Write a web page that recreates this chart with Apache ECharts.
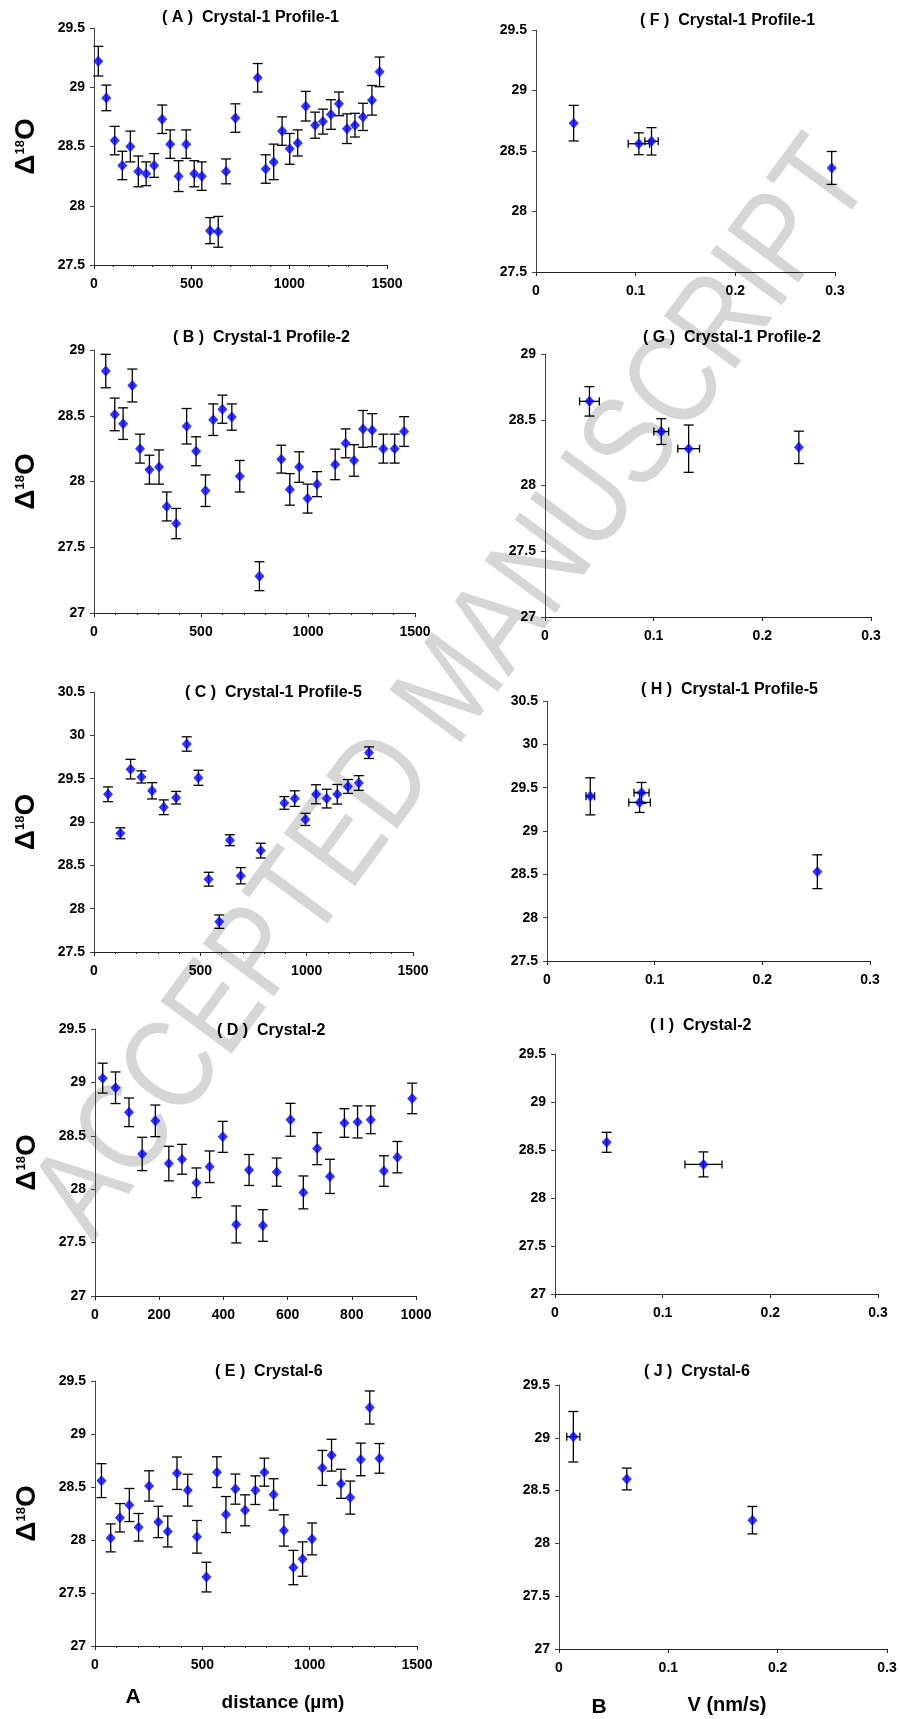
<!DOCTYPE html>
<html>
<head>
<meta charset="utf-8">
<script src="https://cdn.jsdelivr.net/npm/echarts@6/dist/echarts.min.js"></script>
<style>
  html, body { margin: 0; padding: 0; background: #fff; }
  #main { width: 900px; height: 1719px; }
</style>
</head>
<body>
<div id="main"></div>
<script>
// ---- distance profiles (left column) ----
var aDist = [22, 63, 106, 145, 186, 227, 267, 308, 349, 390, 433, 472, 513, 552, 594, 636, 676, 724, 838, 879, 920, 963, 1002, 1043, 1084, 1132, 1172, 1213, 1254, 1295, 1336, 1377, 1423, 1462];
var aD18 = [29.22, 28.91, 28.55, 28.34, 28.50, 28.29, 28.27, 28.34, 28.73, 28.52, 28.25, 28.52, 28.27, 28.25, 27.79, 27.78, 28.29, 28.74, 29.08, 28.31, 28.37, 28.63, 28.48, 28.53, 28.84, 28.68, 28.71, 28.77, 28.86, 28.65, 28.68, 28.75, 28.89, 29.13];
var aErr = [0.125, 0.108, 0.12, 0.12, 0.13, 0.13, 0.10, 0.10, 0.12, 0.12, 0.13, 0.12, 0.11, 0.12, 0.11, 0.13, 0.105, 0.12, 0.12, 0.12, 0.15, 0.12, 0.13, 0.11, 0.125, 0.11, 0.105, 0.125, 0.10, 0.125, 0.10, 0.115, 0.125, 0.125];

var bDist = [55, 97, 136, 179, 215, 259, 304, 340, 384, 433, 477, 521, 557, 600, 644, 681, 773, 875, 915, 959, 998, 1042, 1127, 1176, 1215, 1257, 1300, 1352, 1405, 1449];
var bD18 = [28.84, 28.51, 28.44, 28.73, 28.25, 28.09, 28.11, 27.81, 27.68, 28.42, 28.23, 27.93, 28.47, 28.55, 28.49, 28.04, 27.28, 28.17, 27.94, 28.11, 27.87, 27.98, 28.13, 28.29, 28.16, 28.40, 28.39, 28.25, 28.25, 28.38];
var bErr = [0.127, 0.124, 0.12, 0.125, 0.11, 0.11, 0.13, 0.11, 0.115, 0.135, 0.11, 0.12, 0.12, 0.107, 0.10, 0.12, 0.11, 0.106, 0.12, 0.116, 0.11, 0.095, 0.116, 0.11, 0.12, 0.14, 0.126, 0.11, 0.11, 0.113];

var cDist = [66, 124, 172, 223, 273, 328, 386, 436, 491, 539, 589, 639, 690, 784, 895, 944, 994, 1044, 1094, 1144, 1194, 1245, 1293];
var cD18 = [29.32, 28.87, 29.61, 29.52, 29.36, 29.17, 29.28, 29.90, 29.51, 28.34, 27.85, 28.79, 28.38, 28.67, 29.22, 29.27, 29.03, 29.32, 29.27, 29.32, 29.41, 29.45, 29.80];
var cErr = [0.085, 0.063, 0.113, 0.07, 0.094, 0.085, 0.073, 0.083, 0.087, 0.08, 0.077, 0.063, 0.094, 0.085, 0.073, 0.09, 0.07, 0.11, 0.108, 0.113, 0.08, 0.085, 0.067];

var dDist = [24, 64, 106, 147, 188, 230, 271, 316, 357, 398, 440, 480, 523, 566, 609, 649, 692, 732, 777, 818, 859, 900, 942, 988];
var dD18 = [29.04, 28.95, 28.72, 28.33, 28.64, 28.24, 28.28, 28.06, 28.21, 28.49, 27.67, 28.18, 27.66, 28.16, 28.65, 27.97, 28.38, 28.12, 28.62, 28.63, 28.65, 28.17, 28.30, 28.85];
var dErr = [0.14, 0.148, 0.134, 0.156, 0.148, 0.162, 0.14, 0.139, 0.148, 0.145, 0.173, 0.145, 0.148, 0.132, 0.154, 0.154, 0.15, 0.16, 0.134, 0.15, 0.13, 0.143, 0.147, 0.143];

var eDist = [30, 73, 116, 160, 203, 252, 295, 339, 382, 432, 475, 519, 568, 610, 654, 699, 747, 789, 832, 880, 924, 967, 1011, 1059, 1102, 1146, 1189, 1238, 1280, 1325];
var eD18 = [28.56, 28.02, 28.21, 28.33, 28.12, 28.51, 28.17, 28.08, 28.63, 28.47, 28.03, 27.65, 28.64, 28.24, 28.48, 28.28, 28.47, 28.64, 28.43, 28.09, 27.74, 27.82, 28.01, 28.68, 28.80, 28.53, 28.40, 28.76, 29.25, 28.77];
var eErr = [0.16, 0.132, 0.134, 0.156, 0.13, 0.143, 0.148, 0.146, 0.153, 0.15, 0.154, 0.14, 0.145, 0.17, 0.142, 0.146, 0.135, 0.132, 0.148, 0.148, 0.162, 0.162, 0.15, 0.165, 0.15, 0.137, 0.156, 0.154, 0.156, 0.14];

// ---- growth rate V (right column) ----
var fV = [0.0378, 0.1032, 0.1159, 0.2967];
var fD18 = [28.73, 28.56, 28.58, 28.36];
var fErr = [0.147, 0.09, 0.113, 0.136];
var fVErr = [0, 0.0107, 0.0067, 0];

var gV = [0.0409, 0.107, 0.1322, 0.2336];
var gD18 = [28.64, 28.41, 28.28, 28.29];
var gErr = [0.112, 0.098, 0.18, 0.123];
var gVErr = [0.0091, 0.0068, 0.010, 0];

var hV = [0.0402, 0.086, 0.0878, 0.2511];
var hD18 = [29.40, 29.33, 29.44, 28.53];
var hErr = [0.214, 0.116, 0.12, 0.195];
var hVErr = [0.004, 0.010, 0.007, 0];

var iV = [0.048, 0.1379];
var iD18 = [28.58, 28.35];
var iErr = [0.104, 0.13];
var iVErr = [0, 0.0172];

var jV = [0.0131, 0.062, 0.1769];
var jD18 = [29.01, 28.61, 28.22];
var jErr = [0.239, 0.103, 0.13];
var jVErr = [0.006, 0, 0];

var titles = ['( A )  Crystal-1 Profile-1', '( B )  Crystal-1 Profile-2', '( C )  Crystal-1 Profile-5', '( D )  Crystal-2', '( E )  Crystal-6',
              '( F )  Crystal-1 Profile-1', '( G )  Crystal-1 Profile-2', '( H )  Crystal-1 Profile-5', '( I )  Crystal-2', '( J )  Crystal-6'];

var chart = echarts.init(document.getElementById('main'));
var FONT = '"Liberation Sans", Arial, sans-serif';

// panel layout: grid box, title position, axis ranges
var panels = [
  {x: aDist, y: aD18, ey: aErr, box: [94, 28, 293, 237], t: [162, 10], xr: [0, 1500, 500], yr: [27.5, 29.5, 0.5], minor: true, left: true},
  {x: bDist, y: bD18, ey: bErr, box: [94, 350, 321, 263], t: [173, 330], xr: [0, 1500, 500], yr: [27, 29, 0.5], minor: true, left: true},
  {x: cDist, y: cD18, ey: cErr, box: [94, 692, 319, 260], t: [185, 685], xr: [0, 1500, 500], yr: [27.5, 30.5, 0.5], minor: true, left: true},
  {x: dDist, y: dD18, ey: dErr, box: [95, 1029, 321, 267], t: [217, 1023], xr: [0, 1000, 200], yr: [27, 29.5, 0.5], minor: false, left: true},
  {x: eDist, y: eD18, ey: eErr, box: [95, 1381, 322, 265], t: [215, 1364], xr: [0, 1500, 500], yr: [27, 29.5, 0.5], minor: true, left: true},
  {x: fV, y: fD18, ey: fErr, ex: fVErr, box: [536, 30, 299, 242], t: [640, 13], xr: [0, 0.3, 0.1], yr: [27.5, 29.5, 0.5]},
  {x: gV, y: gD18, ey: gErr, ex: gVErr, box: [545, 354, 326, 263], t: [643, 330], xr: [0, 0.3, 0.1], yr: [27, 29, 0.5]},
  {x: hV, y: hD18, ey: hErr, ex: hVErr, box: [547, 701, 323, 260], t: [641, 682], xr: [0, 0.3, 0.1], yr: [27.5, 30.5, 0.5]},
  {x: iV, y: iD18, ey: iErr, ex: iVErr, box: [555, 1054, 323, 240], t: [650, 1018], xr: [0, 0.3, 0.1], yr: [27, 29.5, 0.5]},
  {x: jV, y: jD18, ey: jErr, ex: jVErr, box: [559, 1385, 328, 264], t: [644, 1364], xr: [0, 0.3, 0.1], yr: [27, 29.5, 0.5]}
];

function plain(v) {
  return String(Math.round(v * 1000) / 1000);
}

function errorBars(params, api) {
  var x = api.value(0), y = api.value(1), ey = api.value(2), ex = api.value(3);
  var top = api.coord([x, y + ey]);
  var bot = api.coord([x, y - ey]);
  var c = api.coord([x, y]);
  var st = {stroke: '#000', lineWidth: 1.3};
  var cap = 5;
  var kids = [
    {type: 'line', shape: {x1: c[0], y1: top[1], x2: c[0], y2: bot[1]}, style: st},
    {type: 'line', shape: {x1: c[0] - cap, y1: top[1], x2: c[0] + cap, y2: top[1]}, style: st},
    {type: 'line', shape: {x1: c[0] - cap, y1: bot[1], x2: c[0] + cap, y2: bot[1]}, style: st}
  ];
  if (ex > 0) {
    var l = api.coord([x - ex, y]), r = api.coord([x + ex, y]);
    kids.push({type: 'line', shape: {x1: l[0], y1: c[1], x2: r[0], y2: c[1]}, style: st});
    kids.push({type: 'line', shape: {x1: l[0], y1: c[1] - 4, x2: l[0], y2: c[1] + 4}, style: st});
    kids.push({type: 'line', shape: {x1: r[0], y1: c[1] - 4, x2: r[0], y2: c[1] + 4}, style: st});
  }
  return {type: 'group', children: kids};
}

var grid = [], xAxis = [], yAxis = [], series = [], title = [];
panels.forEach(function (p, k) {
  grid.push({left: p.box[0], top: p.box[1], width: p.box[2], height: p.box[3]});
  title.push({text: titles[k], left: p.t[0], top: p.t[1], padding: 0,
    textStyle: {fontFamily: FONT, fontSize: 16, fontWeight: 'bold', color: '#000'}});
  xAxis.push({
    gridIndex: k, type: 'value', min: p.xr[0], max: p.xr[1], interval: p.xr[2],
    axisLine: {lineStyle: {color: '#222', width: 1}},
    axisTick: {length: 4, lineStyle: {color: '#222'}},
    minorTick: {show: !!p.minor, splitNumber: 5, length: 2, lineStyle: {color: '#222'}},
    splitLine: {show: false},
    axisLabel: {margin: 12, color: '#000', fontFamily: FONT, fontSize: 14, fontWeight: 'bold', formatter: plain}
  });
  var ya = {
    gridIndex: k, type: 'value', min: p.yr[0], max: p.yr[1], interval: p.yr[2],
    axisLine: {show: true, lineStyle: {color: '#444', width: 1}},
    axisTick: {show: true, length: 4, lineStyle: {color: '#444'}},
    splitLine: {show: false},
    axisLabel: {margin: 9, color: '#000', fontFamily: FONT, fontSize: 14, fontWeight: 'bold', formatter: plain}
  };
  if (p.left) {
    ya.name = '{a|Δ}{b|18}{a|O}';
    ya.nameLocation = 'middle';
    ya.nameGap = 54;
    ya.nameTextStyle = {
      rich: {
        a: {fontFamily: FONT, fontSize: 28, fontWeight: 'bold', color: '#000'},
        b: {fontFamily: FONT, fontSize: 13, fontWeight: 'bold', color: '#000', verticalAlign: 'top', padding: [2, 0, 0, 0]}
      }
    };
  }
  yAxis.push(ya);
  var pts = p.x.map(function (v, i) { return [v, p.y[i], p.ey[i], p.ex ? p.ex[i] : 0]; });
  series.push({
    type: 'custom', xAxisIndex: k, yAxisIndex: k, renderItem: errorBars,
    encode: {x: 0, y: 1}, data: pts, z: 3, silent: true
  });
  series.push({
    type: 'scatter', xAxisIndex: k, yAxisIndex: k, symbol: 'diamond', symbolSize: [10, 11],
    itemStyle: {color: '#0000ff'}, data: pts.map(function (d) { return [d[0], d[1]]; }), z: 4
  });
});

var option = {
  animation: false,
  backgroundColor: '#fff',
  title: title,
  grid: grid,
  xAxis: xAxis,
  yAxis: yAxis,
  series: series,
  graphic: [
    {type: 'text', x: 455, y: 690, rotation: 0.937, scaleY: 1.2, z: -10,
      style: {text: 'ACCEPTED MANUSCRIPT', fill: '#d6d6d6', font: '107px "Liberation Sans", Arial, sans-serif', align: 'center', verticalAlign: 'middle'}},
    {type: 'text', x: 133, y: 1697, style: {text: 'A', fill: '#000', font: 'bold 21px "Liberation Sans", Arial', align: 'center', verticalAlign: 'middle'}},
    {type: 'text', x: 283, y: 1703, style: {text: 'distance (µm)', fill: '#000', font: 'bold 19px "Liberation Sans", Arial', align: 'center', verticalAlign: 'middle'}},
    {type: 'text', x: 599, y: 1707, style: {text: 'B', fill: '#000', font: 'bold 21px "Liberation Sans", Arial', align: 'center', verticalAlign: 'middle'}},
    {type: 'text', x: 727, y: 1705, style: {text: 'V (nm/s)', fill: '#000', font: 'bold 20px "Liberation Sans", Arial', align: 'center', verticalAlign: 'middle'}}
  ]
};
chart.setOption(option);
</script>
</body>
</html>
